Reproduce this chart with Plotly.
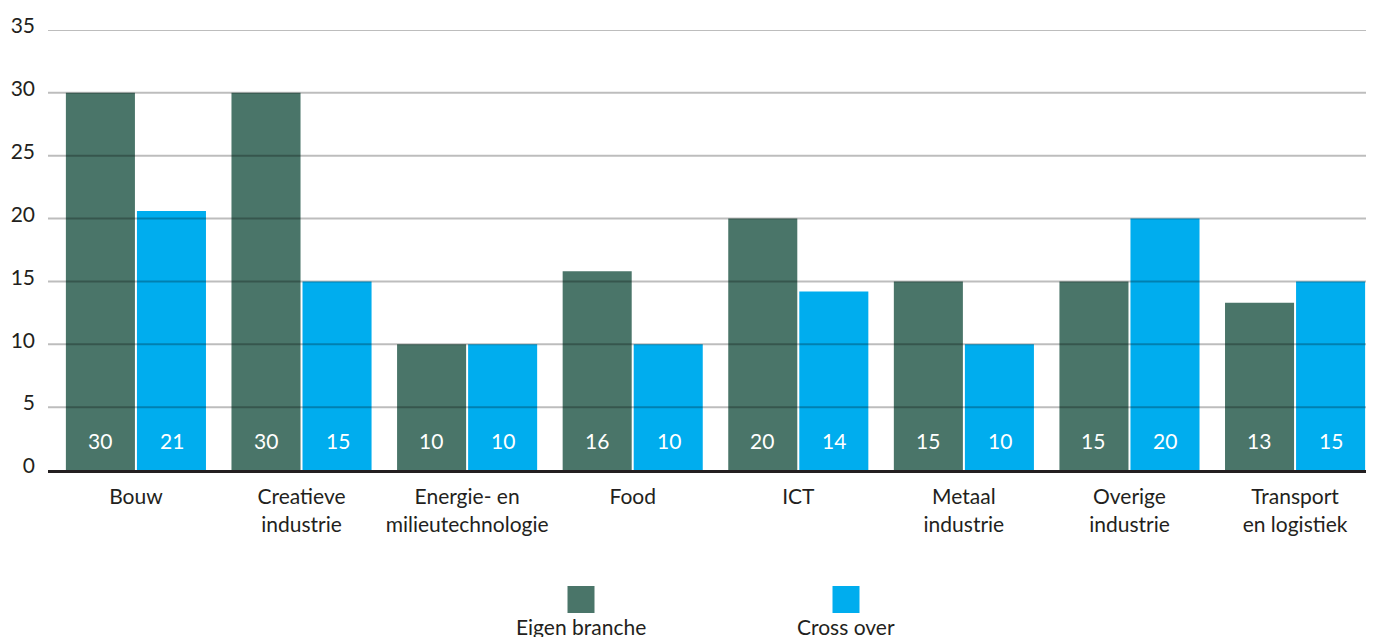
import plotly.graph_objects as go

categories = ["Bouw", "Creatieve<br>industrie", "Energie- en<br>milieutechnologie", "Food", "ICT",
              "Metaal<br>industrie", "Overige<br>industrie", "Transport<br>en logistiek"]
eigen_branche = [30, 30, 10, 15.8, 20, 15, 15, 13.3]
cross_over = [20.6, 15, 10, 10, 14.2, 10, 20, 15]
series_names = ["Eigen branche", "Cross over"]
y_ticks = [0, 5, 10, 15, 20, 25, 30, 35]

colors = ["#4a7569", "#00adee"]
FONT = "Lato"
FS = 21
TXT = "#231f20"

# page body has an 8px margin: figure pixel = screen pixel - 8
OFF = 8
W, H = 1374, 637
L, T, R, B0 = 48 - OFF, 30 - OFF, 0, 470 - OFF   # plot area edges in figure px
plot_w, plot_h = W - L - R, B0 - T

fig = go.Figure()
for name, vals, col in zip(series_names, [eigen_branche, cross_over], colors):
    fig.add_trace(go.Bar(
        x=categories, y=vals, name=name, marker=dict(color=col, line=dict(width=0)),
        hoverinfo="x+y",
    ))

# value labels near the base of each bar
for k, (vals, shift) in enumerate(zip([eigen_branche, cross_over], [-36, 36])):
    for c, v in zip(categories, vals):
        fig.add_annotation(x=c, y=0, xref="x", yref="y", xshift=shift, yshift=30,
                           text=str(round(v)), showarrow=False, yanchor="middle",
                           font=dict(color="white", size=FS, family=FONT))

# gridlines drawn above bars (semi-transparent)
for t in y_ticks[1:]:
    fig.add_shape(type="line", xref="paper", yref="y", x0=0, x1=1, y0=t, y1=t,
                  line=dict(color="rgba(0,0,0,0.26)", width=2), layer="above")

fig.update_layout(
    width=W, height=H,
    margin=dict(l=L, r=R, t=T, b=H - B0),
    paper_bgcolor="white", plot_bgcolor="white",
    barmode="group", bargap=0.142, bargroupgap=0.028,
    showlegend=False,
    font=dict(family=FONT, size=FS, color=TXT),
    xaxis=dict(range=[-0.531, 7.525], showgrid=False, showline=True, linewidth=3,
               linecolor=TXT, ticks="", ticklabelstandoff=6, automargin=False,
               tickfont=dict(size=FS, color=TXT)),
    yaxis=dict(range=[0, 35], tickvals=y_ticks, showgrid=False, zeroline=False,
               showline=False, ticks="", ticklabelstandoff=12, ticklabelshift=-4,
               automargin=False, tickfont=dict(size=FS, color=TXT)),
)

# legend: square above label
def px(x):
    return (x - OFF - L) / plot_w
def py(y):
    return (B0 - (y - OFF)) / plot_h
for name, col, cx in zip(series_names, colors, [581, 846]):
    fig.add_shape(type="rect", xref="paper", yref="paper",
                  x0=px(cx - 13.5), x1=px(cx + 13.5), y0=py(613), y1=py(586),
                  fillcolor=col, line=dict(width=0))
    fig.add_annotation(xref="paper", yref="paper", x=px(cx), y=py(626), text=name,
                       showarrow=False, xanchor="center", yanchor="middle",
                       font=dict(size=FS, color=TXT, family=FONT))

fig.write_html("out.html")
